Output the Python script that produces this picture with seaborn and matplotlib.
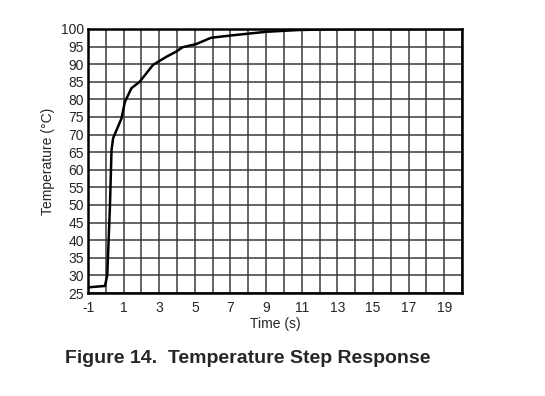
import numpy as np
import pandas as pd
import matplotlib
matplotlib.use("Agg")
import matplotlib.pyplot as plt
import seaborn as sns

# ---- data ----
time_s = [-1.0, -0.05, 0.08, 0.23, 0.32, 0.41, 0.88, 1.07, 1.44, 1.9, 2.65,
          3.4, 3.96, 4.3, 5.07, 5.9, 7.1, 9.0, 10.8, 12.7, 15.0, 17.0, 19.9]
temp_c = [26.6, 27.0, 30.0, 49.5, 65.6, 69.0, 74.6, 79.3, 83.2, 85.0, 89.8,
          92.1, 93.6, 94.8, 95.7, 97.5, 98.2, 99.2, 99.7, 99.9, 100.0, 100.0, 100.0]
x_ticks = [-1, 1, 3, 5, 7, 9, 11, 13, 15, 17, 19]
y_ticks = list(range(25, 101, 5))

df = pd.DataFrame({"time": time_s, "temp": temp_c})

sns.set_style("white")
plt.rcParams['font.family'] = ['Liberation Sans', 'DejaVu Sans']
plt.rcParams['axes.unicode_minus'] = False

fig = plt.figure(figsize=(5.45, 3.96), dpi=100)
ax = fig.add_axes([0.1615, 0.2601, 0.6862, 0.6667])

# grid at every integer second / every 5 degrees
for xv in range(-1, 21):
    ax.axvline(xv, color='#3a3a3a', lw=1.1, zorder=1)
for yv in y_ticks:
    ax.axhline(yv, color='#3a3a3a', lw=1.1, zorder=1)

sns.lineplot(data=df, x="time", y="temp", color='black', lw=1.8, ax=ax, zorder=3)

ax.set_xlim(-1, 20)
ax.set_ylim(25, 100)
ax.set_xticks(x_ticks)
ax.set_yticks(y_ticks)
ax.tick_params(axis='x', length=0, labelsize=10, pad=6)
ax.tick_params(axis='y', length=0, labelsize=10, pad=3)
for s in ax.spines.values():
    s.set_visible(True)
    s.set_color('black')
    s.set_linewidth(1.8)

ax.set_xlabel('Time (s)', fontsize=10, labelpad=1)
ax.set_ylabel('Temperature (°C)', fontsize=10, labelpad=4)

fig.text(0.12, 0.095, 'Figure 14.  Temperature Step Response', fontsize=14,
         fontweight='bold', ha='left', va='center')

fig.savefig('out.png', dpi=100)
